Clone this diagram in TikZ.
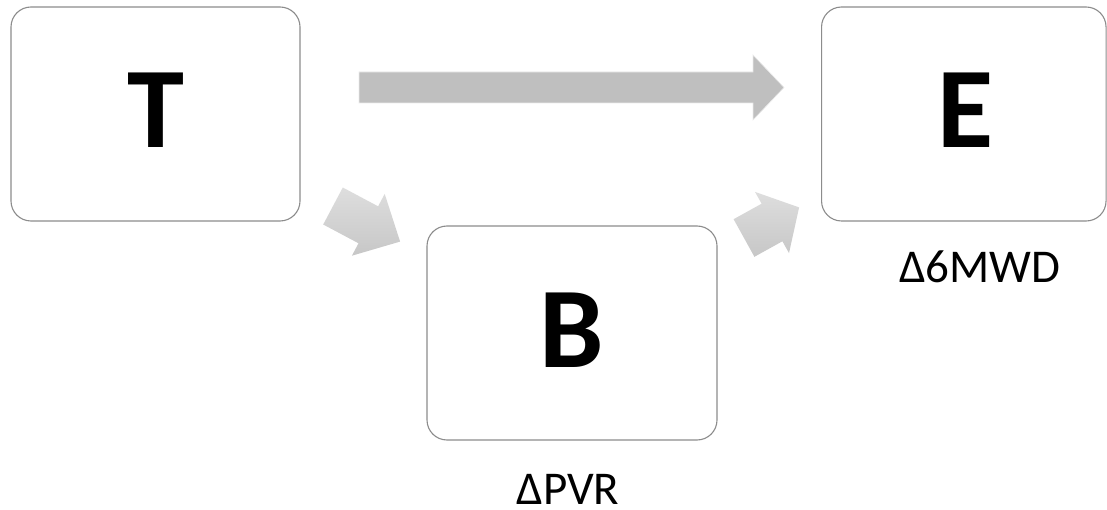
\documentclass[tikz,border=0pt]{standalone}
\usepackage{fontspec}
\setmainfont{Carlito}
\definecolor{boxline}{HTML}{8C8C8C}
\definecolor{arrowgray}{HTML}{BFBFBF}
\tikzset{
  block/.style={draw=boxline, line width=1.1pt, fill=white, rounded corners=20pt,
    minimum height=214pt, inner sep=0pt},
  letter/.style={font=\fontsize{115}{115}\selectfont\bfseries, inner sep=0pt, anchor=base},
  lbl/.style={font=\fontsize{47}{47}\selectfont, inner sep=0pt, anchor=base},
  bigarrow/.style={fill=arrowgray, draw=white!92!black, line width=0.6pt},
  diagarrow/.style={top color=black!13, bottom color=black!22, draw=none}
}
\begin{document}
\begin{tikzpicture}[x=1pt,y=-1pt]
\useasboundingbox (0,0) rectangle (1107,510);
\node[block, minimum width=289pt] (T) at (155.5,114) {};
\node[block, minimum width=284.5pt] (E) at (963.8,114) {};
\node[block, minimum width=290pt] (B) at (572,333) {};
\node[letter] (Tl) at (155.5,148) {T};
\node[letter] (El) at (966,148) {E};
\node[letter] (Bl) at (572,367) {B};
\node[lbl] (L1) at (980,283) {Δ6MWD};
\node[lbl] (L2) at (568,504) {ΔPVR};
% horizontal arrow T -> E
\draw[bigarrow] (359,72) -- (753,72) -- (753,55) -- (784,87.5) -- (753,120)
  -- (753,103) -- (359,103) -- cycle;
% diagonal arrow T -> B
\draw[diagarrow] (342.8,187.5) -- (378.1,206.3) -- (384.7,193.9) -- (400.1,241.6)
  -- (351.9,255.7) -- (358.5,243.3) -- (323.2,224.5) -- cycle;
% diagonal arrow B -> E
\draw[diagarrow] (733.6,219.2) -- (761.6,203.7) -- (755,191.9) -- (799.1,207.4)
  -- (789,253.1) -- (782.4,241.3) -- (754.4,256.8) -- cycle;
\end{tikzpicture}
\end{document}
